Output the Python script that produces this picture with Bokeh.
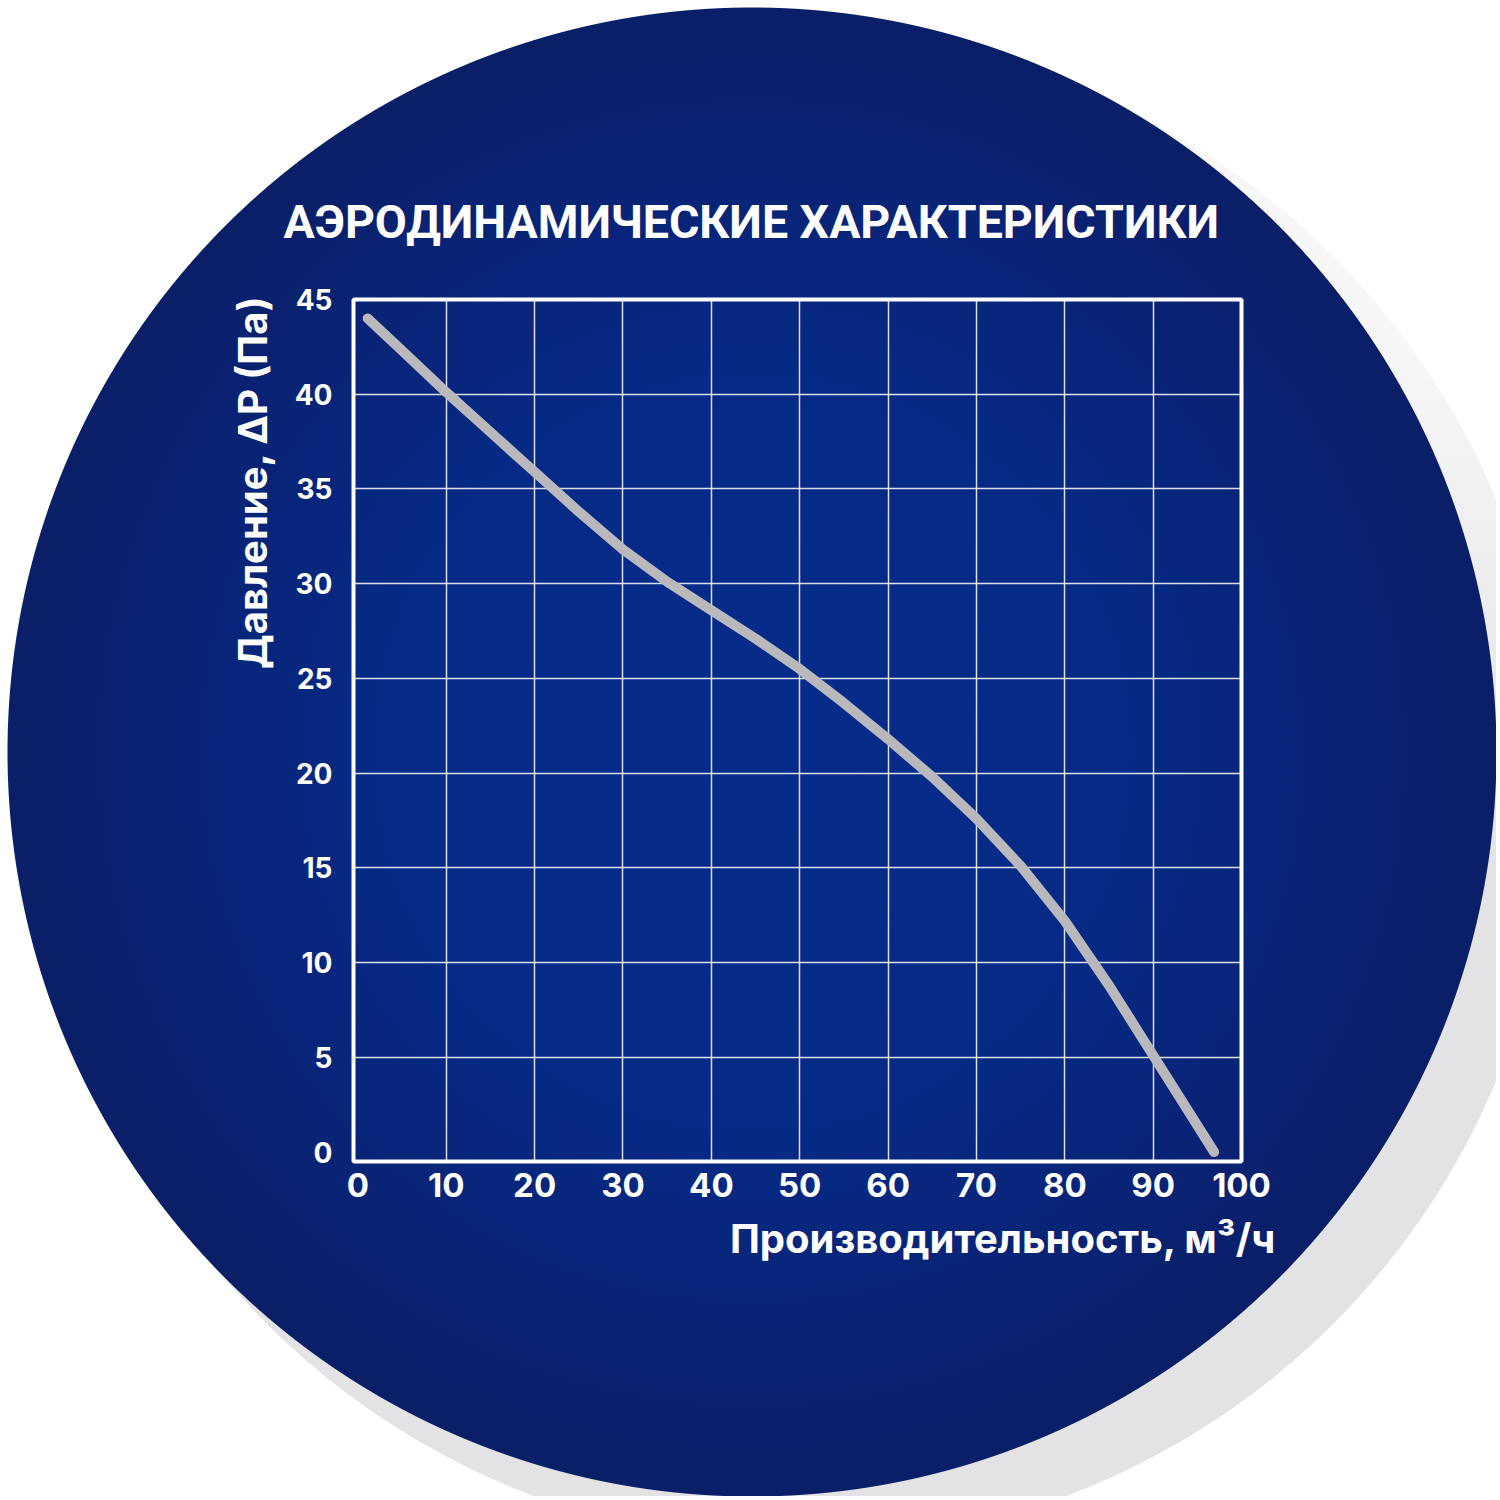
from bokeh.plotting import figure
from bokeh.models import Range1d, LinearAxis, FixedTicker, Grid, Title
from bokeh.embed import file_html
from bokeh.resources import INLINE

# fan curve
flow = [1.1, 5, 10, 15, 20, 25, 30, 35, 40, 45, 50, 55, 60, 65, 70, 75, 80, 85, 90, 96.9]
pressure = [44.0, 42.3, 40.1, 38.0, 35.9, 33.8, 31.8, 30.1, 28.6, 27.1, 25.5, 23.7, 21.8,
            19.8, 17.6, 15.1, 12.2, 8.8, 5.1, 0.0]

x_ticks = [0, 10, 20, 30, 40, 50, 60, 70, 80, 90, 100]
y_ticks = [0, 5, 10, 15, 20, 25, 30, 35, 40, 45]

title_text = "АЭРОДИНАМИЧЕСКИЕ ХАРАКТЕРИСТИКИ"
x_label = "Производительность, м³/ч"
y_label = "Давление, ΔP (Па)"

FONT = "Inter"

# blue disc with a light grey shadow behind the chart (css background of the plot box)
disc = ("radial-gradient(circle 745px at 752px 752px, #062b8a 0px, #062a85 380px, "
        "#0a2272 620px, #0b1f68 744px, rgba(255,255,255,0) 745px)")
# white veil so the shadow only shows up solid at the lower right
veil = ("linear-gradient(to bottom, rgba(255,255,255,0.7) 0px, rgba(255,255,255,0.7) 350px, "
        "rgba(255,255,255,0) 850px)")
shadow = "radial-gradient(circle 755px at 800px 790px, #e3e3e5 754px, rgba(255,255,255,0) 755px)"

p = figure(width=1496, height=1496, output_backend="svg", toolbar_location=None,
           x_range=Range1d(-0.5, x_ticks[-1]), y_range=Range1d(-0.5, y_ticks[-1]),
           x_axis_type=None, y_axis_type=None, title=title_text,
           min_border_left=353, min_border_right=255, min_border_top=299, min_border_bottom=335,
           background_fill_color=None, border_fill_color=None,
           outline_line_color="white", outline_line_width=4)
p.styles = {"background": ", ".join([disc, veil, shadow])}

p.title.text_color = "white"
p.title.text_font = "Roboto"
p.title.text_font_style = "bold"
p.title.text_font_size = "46.5px"
p.title.align = "left"
p.title.offset = -70
p.title.standoff = 101

xaxis = LinearAxis(ticker=FixedTicker(ticks=x_ticks))
yaxis = LinearAxis(ticker=FixedTicker(ticks=y_ticks))
for ax in (xaxis, yaxis):
    ax.axis_line_color = None
    ax.major_tick_line_color = None
    ax.minor_tick_line_color = None
    ax.major_tick_out = 0
    ax.major_tick_in = 0
    ax.major_label_text_color = "white"
    ax.major_label_text_font = FONT
    ax.major_label_text_font_style = "bold"
xaxis.major_label_text_font_size = "33px"
xaxis.major_label_standoff = 11
yaxis.major_label_text_font_size = "28px"
yaxis.major_label_standoff = 21
p.add_layout(xaxis, "below")
p.add_layout(yaxis, "left")

# axis names as side titles so they can be pushed to the ends
xt = Title(text=x_label, align="right", offset=-35, standoff=28, vertical_align="top",
           text_color="white", text_font=FONT, text_font_style="bold", text_font_size="40px")
yt = Title(text=y_label, align="right", offset=-5, standoff=30,
           text_color="white", text_font=FONT, text_font_style="bold", text_font_size="40px")
p.add_layout(xt, "below")
p.add_layout(yt, "left")

# inner grid, the frame outline covers the outer lines
p.add_layout(Grid(dimension=0, ticker=FixedTicker(ticks=x_ticks[1:-1]),
                  grid_line_color="white", grid_line_width=1.5, grid_line_alpha=0.85))
p.add_layout(Grid(dimension=1, ticker=FixedTicker(ticks=y_ticks[1:-1]),
                  grid_line_color="white", grid_line_width=1.5, grid_line_alpha=0.85))

p.line(flow, pressure, line_color="#b9b9bd", line_width=10, line_cap="round", line_join="round")

open("out.html", "w").write(file_html(p, INLINE))
